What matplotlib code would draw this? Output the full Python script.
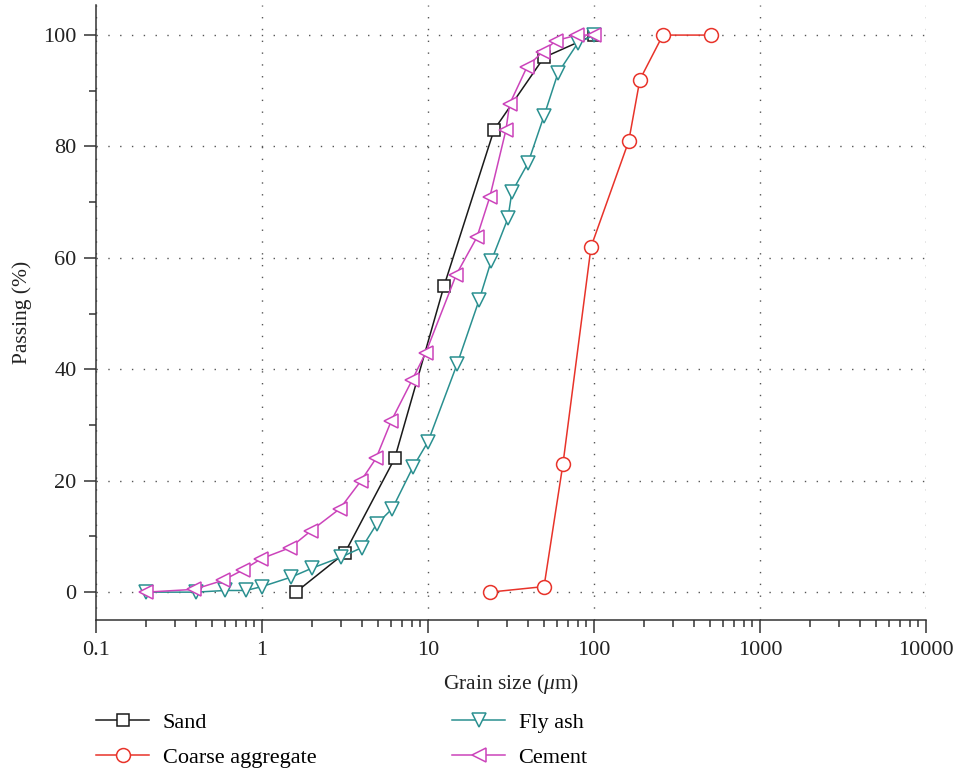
import matplotlib
matplotlib.use("Agg")
import matplotlib.pyplot as plt
from matplotlib.ticker import LogLocator, FixedLocator, NullFormatter, FixedFormatter

plt.rcParams['font.family'] = ['Liberation Serif', 'DejaVu Serif']
plt.rcParams['mathtext.fontset'] = 'custom'
plt.rcParams['mathtext.it'] = 'Liberation Serif:italic'
plt.rcParams['mathtext.rm'] = 'Liberation Serif'

# Particle size distributions (grain size in um, cumulative passing in %)
sand_size = [1.6, 3.15, 6.3, 12.5, 25, 50, 100]
sand_pass = [0, 7, 24, 55, 83, 96, 100]

coarse_size = [23.6, 50, 65, 96, 162, 189, 260, 507]
coarse_pass = [0, 1, 23, 62, 81, 92, 100, 100]

flyash_size = [0.2, 0.4, 0.6, 0.8, 1.0, 1.5, 2.0, 3.0, 4.0, 4.9, 6.1, 8.1, 10,
               15, 20.3, 24, 30.3, 32, 40, 50, 60.7, 80, 100]
flyash_pass = [0, 0, 0.3, 0.3, 1, 2.7, 4.3, 6.3, 8, 12.2, 15, 22.4, 27,
               41, 52.4, 59.4, 67.1, 71.8, 77, 85.5, 93.2, 98.6, 100]

cement_size = [0.2, 0.39, 0.58, 0.77, 0.99, 1.48, 1.97, 2.95, 3.95, 4.86, 6.0,
               8.0, 9.7, 14.8, 19.7, 23.6, 29.5, 31, 39.5, 49, 59, 79, 100]
cement_pass = [0, 0.5, 2.1, 4, 6, 8, 11, 15, 20, 24, 30.7,
               38, 43, 57, 63.7, 71, 83, 87.6, 94.3, 97, 99, 100, 100]

x_ticks = [0.1, 1, 10, 100, 1000, 10000]
x_tick_labels = ['0.1', '1', '10', '100', '1000', '10000']
y_ticks = [0, 20, 40, 60, 80, 100]

fig = plt.figure(figsize=(9.57, 7.71), dpi=100)
ax = fig.add_axes([96 / 957, 1 - 620 / 771, 830 / 957, 615 / 771])

lw = 1.1
ax.plot(sand_size, sand_pass, color='#1a1a1a', lw=lw, marker='s', ms=9,
        mfc='white', mec='#1a1a1a', mew=1.1, label='Sand', zorder=3)
ax.plot(coarse_size, coarse_pass, color='#e8332a', lw=lw, marker='o', ms=10,
        mfc='white', mec='#e8332a', mew=1.1, label='Coarse aggregate', zorder=3)
ax.plot(flyash_size, flyash_pass, color='#2a9090', lw=lw, marker='v', ms=10.5,
        mfc='white', mec='#2a9090', mew=1.1, label='Fly ash', zorder=3)
ax.plot(cement_size, cement_pass, color='#cc44bb', lw=lw, marker='<', ms=10.5,
        mfc='white', mec='#cc44bb', mew=1.1, label='Cement', zorder=3)

ax.set_xscale('log')
ax.set_xlim(0.1, 10000)
ax.set_ylim(-5, 105.4)

ax.xaxis.set_major_locator(FixedLocator(x_ticks))
ax.xaxis.set_major_formatter(FixedFormatter(x_tick_labels))
ax.xaxis.set_minor_locator(LogLocator(base=10, subs=range(2, 10), numticks=20))
ax.xaxis.set_minor_formatter(NullFormatter())
ax.set_yticks(y_ticks)
ax.set_yticks([10, 30, 50, 70, 90], minor=True)

for s in ['top', 'right']:
    ax.spines[s].set_visible(False)
for s in ['left', 'bottom']:
    ax.spines[s].set_linewidth(1.1)
    ax.spines[s].set_color('#333333')

ax.tick_params(axis='both', which='major', direction='out', length=9,
               width=1.1, color='#333333', labelsize=16, labelcolor='#222222')
ax.tick_params(axis='both', which='minor', direction='out', length=5,
               width=1.1, color='#333333')
ax.tick_params(axis='x', which='major', pad=6)
ax.tick_params(axis='y', which='major', pad=5)

ax.grid(True, which='major', color='#555555', linestyle=(0, (1, 7.5)), lw=1.0)
ax.set_axisbelow(True)

ax.set_xlabel(r'Grain size ($\mathit{\mu}$m)', fontsize=15.5, color='#222222', labelpad=9)
ax.set_ylabel('Passing (%)', fontsize=15.5, color='#222222', labelpad=8)

fig.legend(loc='upper left', bbox_to_anchor=(96 / 957, 1 - 712 / 771),
           ncol=2, frameon=False, fontsize=16, handlelength=2.4,
           handletextpad=0.6, columnspacing=6.1, labelspacing=0.68,
           borderaxespad=0, borderpad=0)

fig.savefig('out.png', dpi=100)
